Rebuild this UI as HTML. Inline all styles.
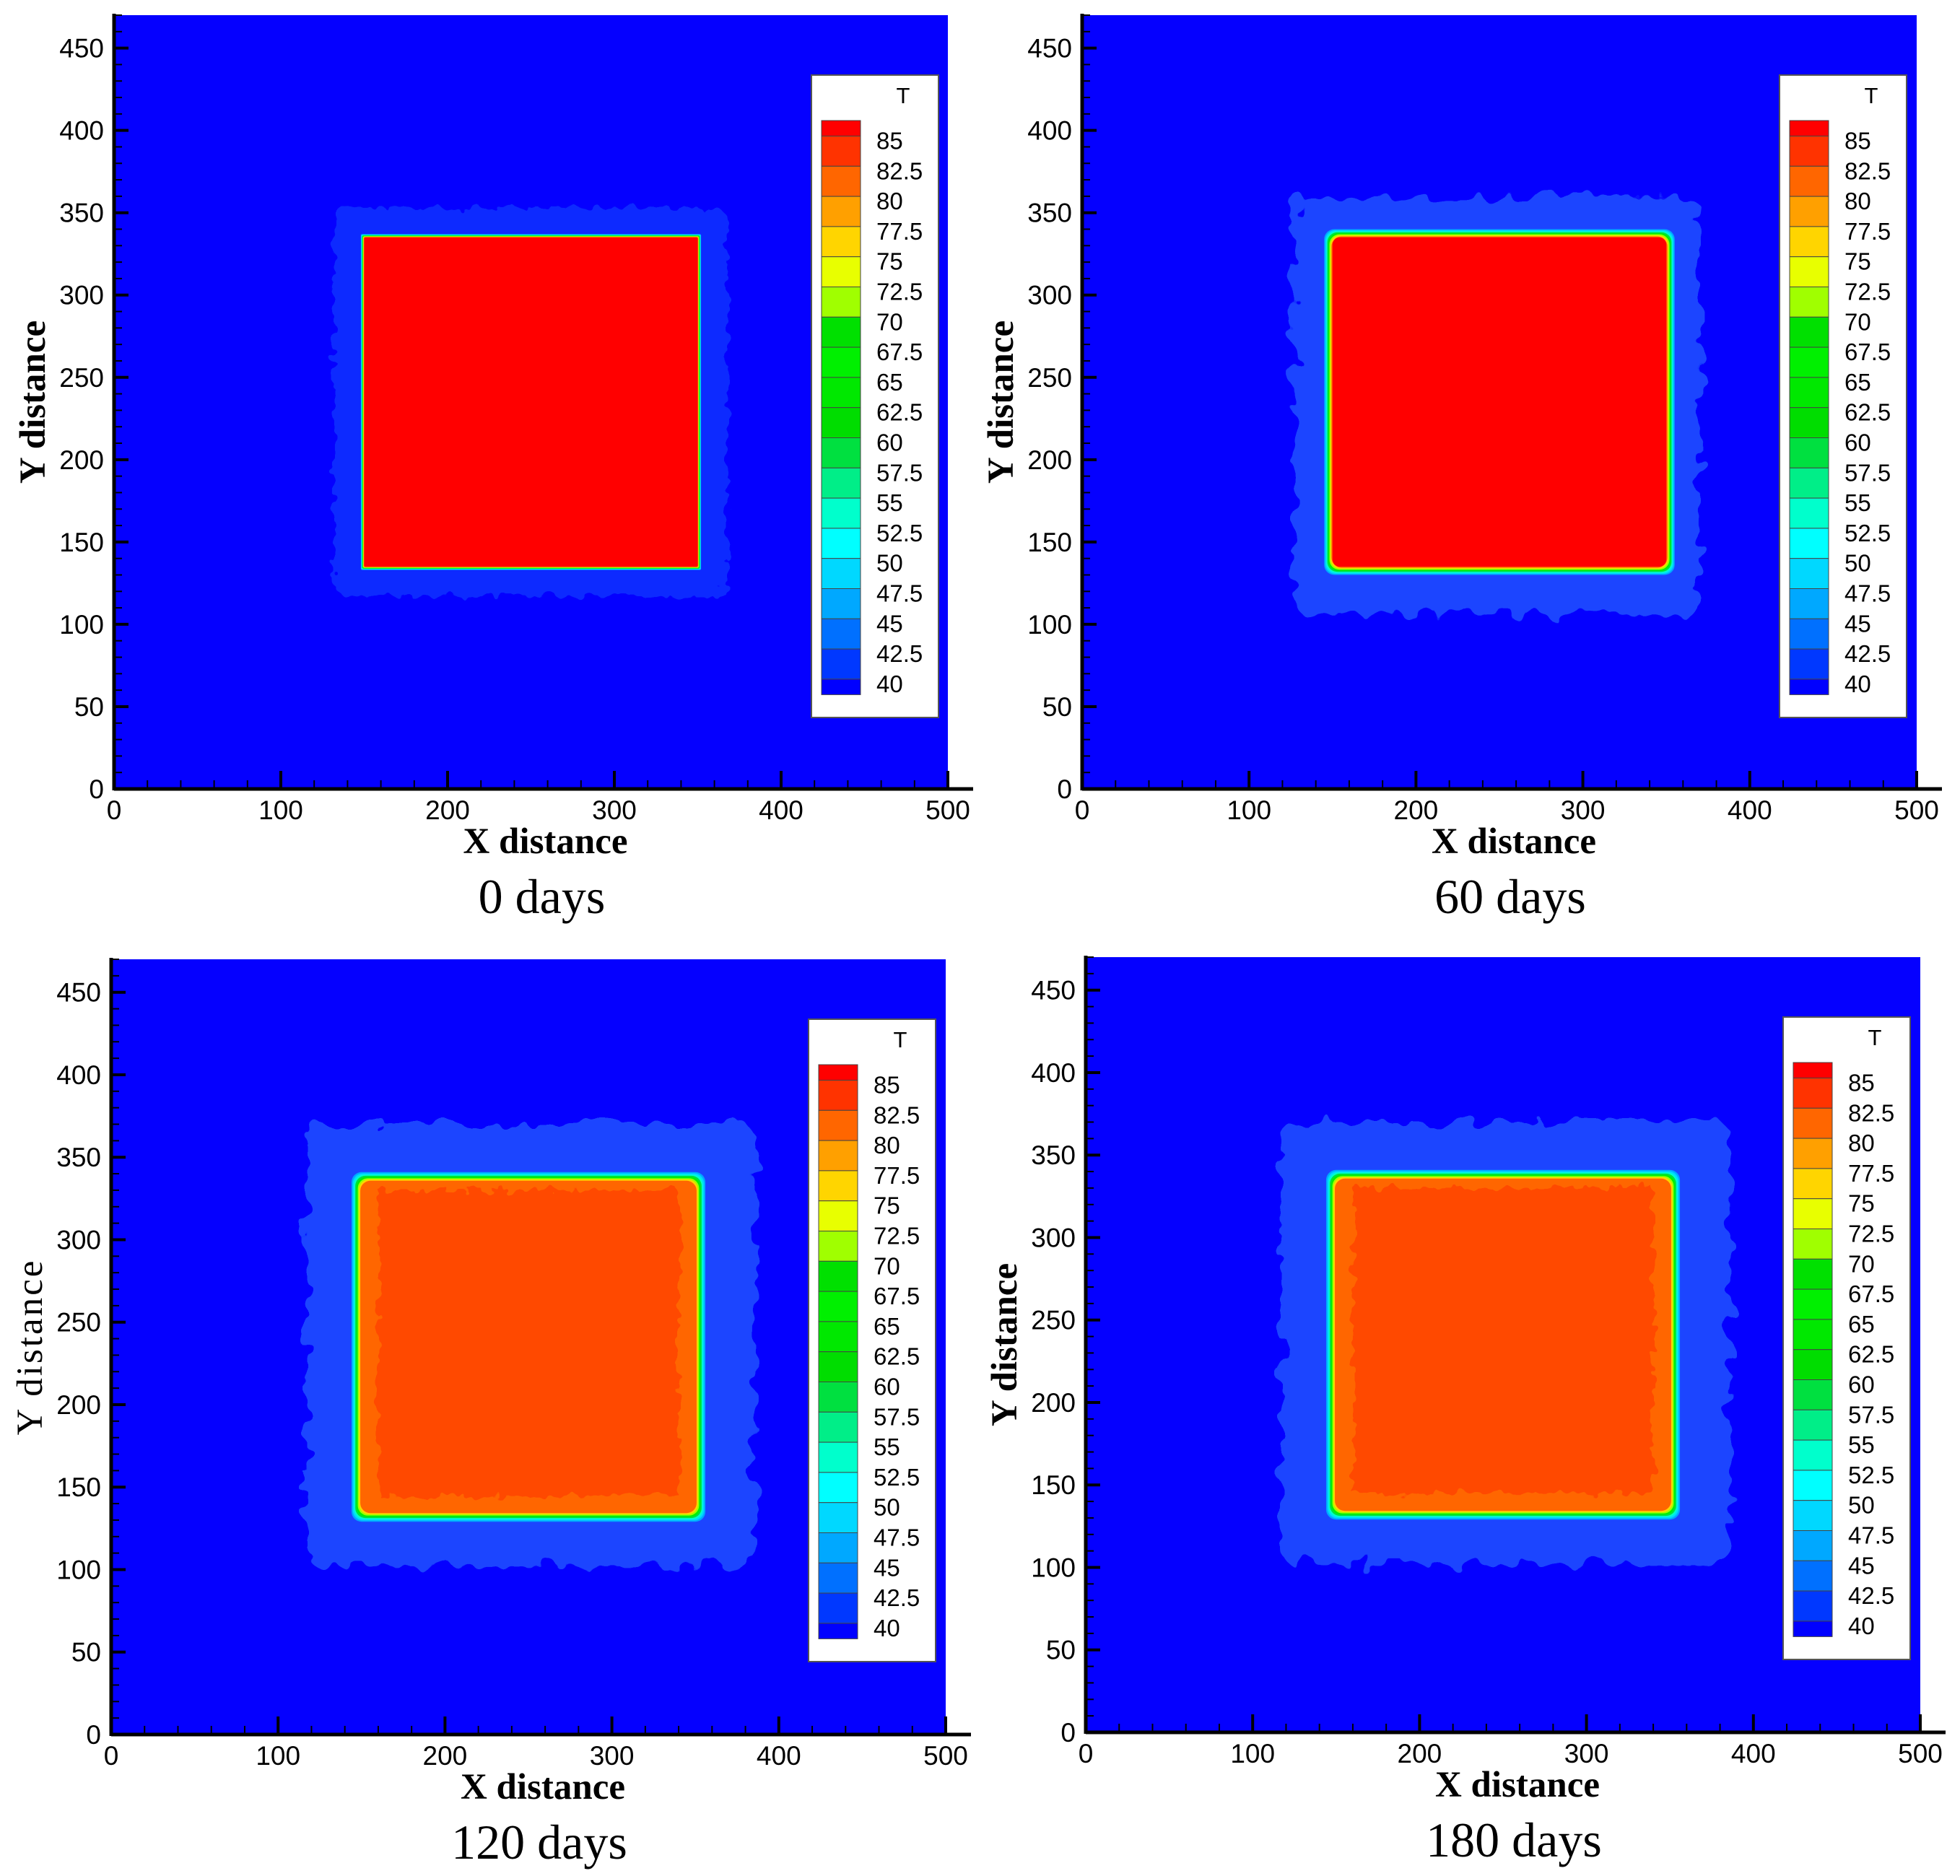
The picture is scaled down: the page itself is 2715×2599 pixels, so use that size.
<!DOCTYPE html>
<html><head><meta charset="utf-8"><style>
html,body{margin:0;padding:0;background:#fff;}
svg{display:block;}
</style></head><body>
<svg id="fig" xmlns="http://www.w3.org/2000/svg" width="2715" height="2599" viewBox="0 0 2715 2599">
<defs>
<filter id="rag" x="-20%" y="-20%" width="140%" height="140%">
<feTurbulence type="fractalNoise" baseFrequency="0.035" numOctaves="2" seed="3"/>
<feDisplacementMap in="SourceGraphic" scale="40"/>
</filter>
<filter id="rag2" x="-20%" y="-20%" width="140%" height="140%">
<feTurbulence type="fractalNoise" baseFrequency="0.06" numOctaves="2" seed="7"/>
<feDisplacementMap in="SourceGraphic" scale="22"/>
</filter>
</defs>
<rect width="2715" height="2599" fill="#fff"/>
</svg>
<script>
const levels = [85,82.5,80,77.5,75,72.5,70,67.5,65,62.5,60,57.5,55,52.5,50,47.5,45,42.5,40];
const bandColors = ["#ff0000","#ff3300","#ff6600","#ffa000","#ffd500","#e8ff00","#a0ff00","#00e000","#00f000","#00e800","#00dd00","#00e040","#00ee88","#00ffcc","#00ffff","#00d8ff","#00a8ff","#0070ff","#0038ff","#0000ff"];
const dayLabels = ["0 days","60 days","120 days","180 days"];
const coreTemp = [86, 86, 81, 81];
const haloExtent = [[132,368,117,353],[127,370,106,360],[117,386,102,370],[117,386,102,370]];
const squareBounds = [150,350,135,335];
const yTicks = [0,50,100,150,200,250,300,350,400,450];
const xTicks = [0,100,200,300,400,500];
const ringWidth = [2,5,6,6];

const panels = [
 {x0:158,x1:1313,y0:1093,y1:21,boldY:true},
 {x0:1499,x1:2655,y0:1093,y1:21,boldY:true},
 {x0:154,x1:1310,y0:2403,y1:1329,boldY:false},
 {x0:1504,x1:2660,y0:2400,y1:1326,boldY:true}
];
const NS="http://www.w3.org/2000/svg";
const svg=document.getElementById('fig');
function mk(tag,attrs,parent){const e=document.createElementNS(NS,tag);for(const k in attrs)e.setAttribute(k,attrs[k]);(parent||svg).appendChild(e);return e;}
function colorFor(t){
  if(t>=85) return bandColors[0];
  for(let i=0;i<levels.length-1;i++){ if(t<levels[i]&&t>=levels[i+1]) return bandColors[i+1]; }
  return bandColors[bandColors.length-1];
}
panels.forEach((p,pi)=>{
  const sx=v=>p.x0+(p.x1-p.x0)*v/500;
  const sy=v=>p.y0+(p.y1-p.y0)*v/470;
  const g=mk('g',{});
  
  
  const bg=mk('rect',{x:p.x0,y:p.y1,width:p.x1-p.x0,height:p.y0-p.y1,fill:'#0500ff'},g);
  
  
  const h=haloExtent[pi];
  const halo=mk('rect',{x:sx(h[0]),y:sy(h[3]),width:sx(h[1])-sx(h[0]),height:sy(h[2])-sy(h[3]),fill:pi==0?'#0d2cff':'#1a44ff',filter:pi==0?'url(#rag2)':'url(#rag)',rx:20},g);
  
  
  const s=squareBounds, w=ringWidth[pi];
  const ringT=[45,47.5,52.5,57.5,65,72,76,80];
  ringT.forEach((t,k)=>{
    const d=w*(1-k/ringT.length);
    const r=mk('rect',{x:sx(s[0]-d),y:sy(s[3]+d),width:sx(s[1]+d)-sx(s[0]-d),height:sy(s[2]-d)-sy(s[3]+d),rx:pi==0?2:14,fill:colorFor(t)},g);
    
    
  });
  const core=mk('rect',{x:sx(s[0]),y:sy(s[3]),width:sx(s[1])-sx(s[0]),height:sy(s[2])-sy(s[3]),rx:pi==0?2:10,fill:colorFor(coreTemp[pi])},g);
  
  
  if(coreTemp[pi]<85){
    const inner=mk('rect',{x:sx(s[0]+10),y:sy(s[3]-5),width:sx(s[1]-10)-sx(s[0]+10),height:sy(s[2]+10)-sy(s[3]-5),fill:'#ff4a00',filter:'url(#rag2)'},g);
    
    
  }
  const ax=mk('line',{x1:p.x0,y1:p.y1-2,x2:p.x0,y2:p.y0+2,stroke:'#000','stroke-width':5},g);
  
  
  const bx=mk('line',{x1:p.x0,y1:p.y0,x2:p.x1+35,y2:p.y0,stroke:'#000','stroke-width':5},g);
  
  
  for(let v=0;v<=470;v+=10){
    const major=v%50===0;
    mk('line',{x1:p.x0,y1:sy(v),x2:p.x0+(major?20:11),y2:sy(v),stroke:'#000','stroke-width':major?4:2},g);
  }
  for(let v=0;v<=500;v+=20){
    const major=v%100===0;
    mk('line',{x1:sx(v),y1:p.y0,x2:sx(v),y2:p.y0-(major?25:12),stroke:'#000','stroke-width':major?4:2},g);
  }
  yTicks.forEach(v=>{
    const t=mk('text',{x:p.x0-14,y:sy(v)+13,'text-anchor':'end','font-family':'Liberation Sans, sans-serif','font-size':37},g);
    t.textContent=v;
    
    
  });
  xTicks.forEach(v=>{
    const t=mk('text',{x:sx(v),y:p.y0+42,'text-anchor':'middle','font-family':'Liberation Sans, sans-serif','font-size':37},g);
    t.textContent=v;
    
    
  });
  const xt=mk('text',{x:(p.x0+p.x1)/2+20,y:p.y0+89,'text-anchor':'middle','font-family':'Liberation Serif, serif','font-size':51,'font-weight':'bold'},g);
  xt.textContent='X distance';
  
  
  const yc=(p.y0+p.y1)/2;
  const yt=mk('text',{x:p.x0-112,y:yc,'text-anchor':'middle','font-family':'Liberation Serif, serif','font-size':51,'font-weight':p.boldY?'bold':'normal','letter-spacing':p.boldY?0:3,transform:`rotate(-90 ${p.x0-112} ${yc}) translate(0 16)`},g);
  yt.textContent='Y distance';
  
  
  const dt=mk('text',{x:(p.x0+p.x1)/2+15,y:p.y0+172,'text-anchor':'middle','font-family':'Liberation Serif, serif','font-size':68},g);
  dt.textContent=dayLabels[pi];
  
  
  const lx=p.x0+966, ly=p.y1+83;
  const lg=mk('g',{},g);
  
  
  mk('rect',{x:lx,y:ly,width:176,height:890,fill:'#fff',stroke:'#555','stroke-width':2},lg);
  const lt=mk('text',{x:lx+127,y:ly+39,'font-family':'Liberation Sans, sans-serif','font-size':31,'text-anchor':'middle'},lg);
  lt.textContent='T';
  
  
  const cbx=lx+14, cbw=54, top=ly+63, bandH=41.8, firstH=21.5;
  const b0=mk('rect',{x:cbx,y:top,width:cbw,height:firstH,fill:bandColors[0],stroke:'#444','stroke-width':1},lg);
  
  
  levels.forEach((v,i)=>{
    const by=top+firstH+i*bandH;
    const hgt=i===levels.length-1?firstH:bandH;
    const b=mk('rect',{x:cbx,y:by,width:cbw,height:hgt,fill:bandColors[i+1],stroke:'#444','stroke-width':1},lg);
    
    
    const t=mk('text',{x:lx+90,y:by+18,'font-family':'Liberation Sans, sans-serif','font-size':33},lg);
    t.textContent=v;
    
    
  });
});
</script>
</body></html>
